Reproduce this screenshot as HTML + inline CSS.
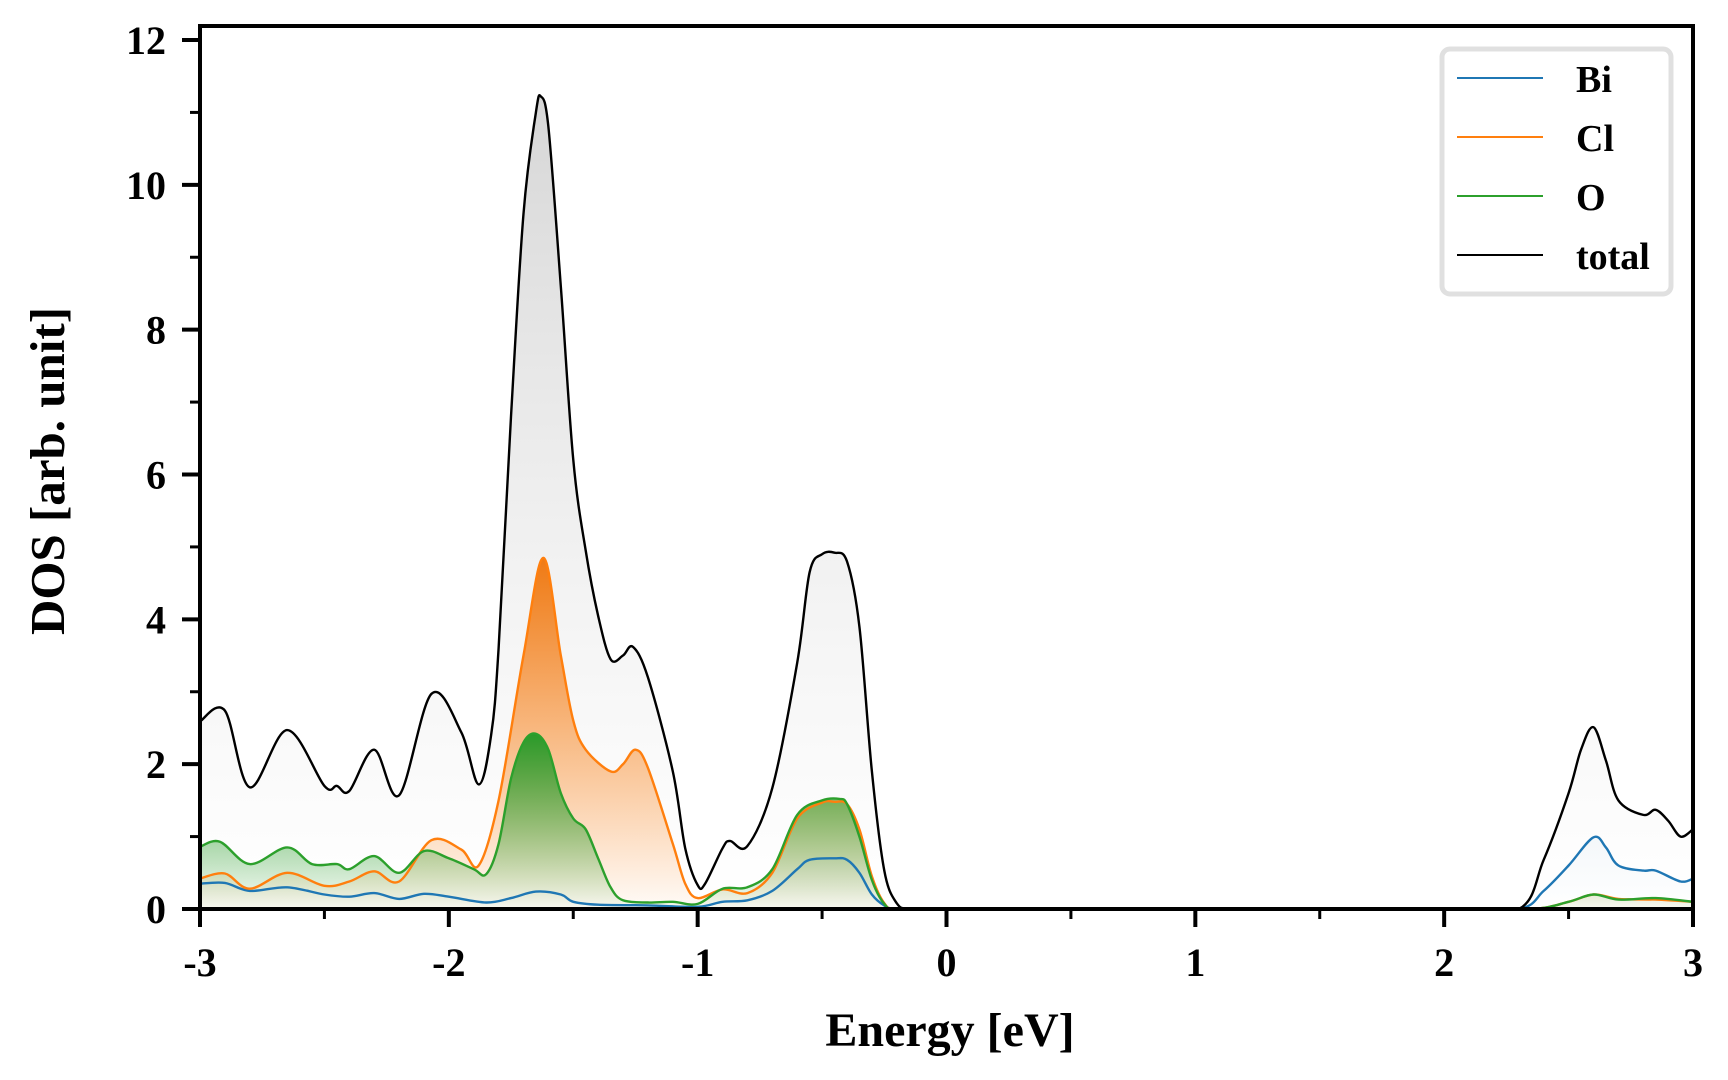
<!DOCTYPE html>
<html><head><meta charset="utf-8"><style>
html,body{margin:0;padding:0;background:#fff;}
svg{display:block;}
text{font-family:"Liberation Serif",serif;font-weight:bold;fill:#000;}
</style></head><body>
<svg id="chart" width="1728" height="1080" viewBox="0 0 1728 1080" xmlns="http://www.w3.org/2000/svg">
<defs>
<linearGradient id="gTotal" x1="0" y1="0" x2="0" y2="1"><stop offset="0" stop-color="#d6d6d6"/><stop offset="1" stop-color="#ffffff" stop-opacity="0.6"/></linearGradient>
<linearGradient id="gCl" x1="0" y1="0" x2="0" y2="1"><stop offset="0" stop-color="#ef7a14"/><stop offset="1" stop-color="#ff7f0e" stop-opacity="0.03"/></linearGradient>
<linearGradient id="gO" x1="0" y1="0" x2="0" y2="1"><stop offset="0" stop-color="#2a9a2a"/><stop offset="1" stop-color="#2ca02c" stop-opacity="0.03"/></linearGradient>
<linearGradient id="gBi" x1="0" y1="0" x2="0" y2="1"><stop offset="0" stop-color="#1f77b4" stop-opacity="0.04"/><stop offset="1" stop-color="#1f77b4" stop-opacity="0.0"/></linearGradient>
<clipPath id="plotClip"><rect x="200" y="26" width="1493" height="883"/></clipPath>
</defs>
<g id="fills" clip-path="url(#plotClip)"></g>
<g id="lines" clip-path="url(#plotClip)"></g>
<g id="axes"></g>
<g>
<rect x="1442" y="49" width="229" height="245" rx="8" fill="#fff" stroke="#e0e0e0" stroke-width="5"/>
<g><line x1="1457" x2="1543" y1="78" y2="78" stroke="#1f77b4" stroke-width="2"/><text x="1576" y="92" font-size="38">Bi</text></g>
<g><line x1="1457" x2="1543" y1="137" y2="137" stroke="#ff7f0e" stroke-width="2"/><text x="1576" y="151" font-size="38">Cl</text></g>
<g><line x1="1457" x2="1543" y1="196" y2="196" stroke="#2ca02c" stroke-width="2"/><text x="1576" y="210" font-size="38">O</text></g>
<g><line x1="1457" x2="1543" y1="255" y2="255" stroke="#000" stroke-width="2"/><text x="1576" y="269" font-size="38">total</text></g>
</g>
<text x="950" y="1046" font-size="48" text-anchor="middle">Energy [eV]</text>
<text transform="translate(64,471) rotate(-90)" font-size="49" text-anchor="middle">DOS [arb. unit]</text>
</svg>
<script>
const totalX=[-3,-2.9,-2.8,-2.65,-2.5,-2.45,-2.4,-2.3,-2.2,-2.07,-1.95,-1.88,-1.83,-1.8,-1.75,-1.7,-1.65,-1.63,-1.6,-1.55,-1.5,-1.45,-1.4,-1.35,-1.3,-1.26,-1.2,-1.1,-1.05,-1.0,-0.97,-0.9,-0.87,-0.8,-0.7,-0.6,-0.55,-0.5,-0.45,-0.4,-0.35,-0.3,-0.25,-0.2,-0.15,0,1,2,2.3,2.4,2.5,2.55,2.6,2.65,2.7,2.8,2.85,2.9,2.95,3];
const totalY=[2.59,2.74,1.68,2.47,1.7,1.7,1.63,2.2,1.57,2.97,2.44,1.72,2.4,3.6,6.8,9.6,11.0,11.22,10.8,8.6,6.2,4.95,4.05,3.45,3.5,3.62,3.2,1.9,0.84,0.33,0.35,0.84,0.94,0.87,1.67,3.4,4.65,4.9,4.92,4.8,3.9,1.9,0.53,0.08,0,0,0,0,0,0.68,1.6,2.2,2.51,2.05,1.5,1.3,1.37,1.22,1.0,1.1];
const biX=[-3,-2.9,-2.8,-2.65,-2.5,-2.4,-2.3,-2.2,-2.1,-2.0,-1.85,-1.75,-1.65,-1.55,-1.5,-1.4,-1.2,-1.0,-0.9,-0.8,-0.7,-0.6,-0.55,-0.45,-0.4,-0.35,-0.3,-0.25,-0.2,0,1,2,2.3,2.4,2.5,2.6,2.65,2.7,2.8,2.85,2.95,3];
const biY=[0.35,0.36,0.25,0.3,0.2,0.17,0.22,0.14,0.21,0.17,0.09,0.15,0.24,0.2,0.1,0.06,0.05,0.03,0.1,0.12,0.25,0.55,0.68,0.7,0.68,0.5,0.2,0.05,0,0,0,0,0,0.25,0.6,0.99,0.85,0.6,0.53,0.53,0.38,0.42];
const clX=[-3,-2.9,-2.8,-2.65,-2.5,-2.4,-2.3,-2.2,-2.07,-1.95,-1.88,-1.8,-1.7,-1.62,-1.55,-1.5,-1.45,-1.35,-1.3,-1.25,-1.2,-1.1,-1.05,-1.0,-0.9,-0.8,-0.7,-0.6,-0.5,-0.45,-0.4,-0.35,-0.3,-0.25,-0.2,0,1,2,2.35,2.5,2.6,2.7,2.85,3];
const clY=[0.42,0.49,0.28,0.5,0.32,0.38,0.52,0.38,0.95,0.82,0.6,1.5,3.5,4.85,3.5,2.6,2.2,1.9,2.0,2.2,1.95,0.9,0.35,0.15,0.27,0.22,0.5,1.25,1.47,1.48,1.45,1.1,0.45,0.08,0,0,0,0,0,0.1,0.2,0.14,0.13,0.1];
const oX=[-3,-2.92,-2.8,-2.65,-2.55,-2.45,-2.4,-2.3,-2.2,-2.1,-2.0,-1.9,-1.85,-1.8,-1.75,-1.7,-1.65,-1.6,-1.55,-1.5,-1.45,-1.4,-1.35,-1.3,-1.2,-1.1,-1.0,-0.9,-0.8,-0.7,-0.6,-0.5,-0.43,-0.4,-0.35,-0.3,-0.25,-0.2,0,1,2,2.35,2.5,2.6,2.7,2.85,3];
const oY=[0.86,0.93,0.62,0.85,0.62,0.62,0.55,0.73,0.5,0.8,0.7,0.55,0.48,0.9,1.8,2.3,2.42,2.2,1.6,1.25,1.1,0.7,0.3,0.12,0.09,0.1,0.07,0.28,0.3,0.55,1.3,1.5,1.52,1.45,1.0,0.4,0.07,0,0,0,0,0,0.1,0.2,0.13,0.15,0.1];
const xTicks=[-3,-2,-1,0,1,2,3];
const yTicks=[0,2,4,6,8,10,12];

const NS="http://www.w3.org/2000/svg";
const L=200,R=1693,T=26,B=909;
function sx(v){return L+(v+3)/6*(R-L);}
function syy(v){return B-v*(B-40)/12;}
function pathD(xs,ys){
  const p=xs.map((x,i)=>[sx(x),syy(ys[i])]);
  let d="M"+p[0][0].toFixed(1)+","+p[0][1].toFixed(1);
  for(let i=0;i<p.length-1;i++){
    const p0=p[Math.max(0,i-1)],p1=p[i],p2=p[i+1],p3=p[Math.min(p.length-1,i+2)];
    const c1x=p1[0]+(p2[0]-p0[0])/6,c1y=p1[1]+(p2[1]-p0[1])/6;
    const c2x=p2[0]-(p3[0]-p1[0])/6,c2y=p2[1]-(p3[1]-p1[1])/6;
    d+=" C"+c1x.toFixed(1)+","+Math.min(B,c1y).toFixed(1)+" "+c2x.toFixed(1)+","+Math.min(B,c2y).toFixed(1)+" "+p2[0].toFixed(1)+","+p2[1].toFixed(1);
  }
  return d;
}
const fills=document.getElementById('fills'),lines=document.getElementById('lines'),axes=document.getElementById('axes');
const series=[["total",totalX,totalY,"#000","url(#gTotal)"],["cl",clX,clY,"#ff7f0e","url(#gCl)"],["o",oX,oY,"#2ca02c","url(#gO)"],["bi",biX,biY,"#1f77b4","url(#gBi)"]];
series.forEach(s=>{
  const d=pathD(s[1],s[2]);
  const f=document.createElementNS(NS,'path');
  f.setAttribute('d',d+" L"+sx(s[1][s[1].length-1])+","+B+" L"+sx(s[1][0])+","+B+" Z");
  f.setAttribute('fill',s[4]);
  
  
  fills.appendChild(f);
});
[series[3],series[1],series[2],series[0]].forEach(s=>{
  const l=document.createElementNS(NS,'path');
  l.setAttribute('d',pathD(s[1],s[2]));
  l.setAttribute('fill','none');
  l.setAttribute('stroke',s[3]);
  l.setAttribute('stroke-width','2.4');
  
  
  lines.appendChild(l);
});
function add(tag,attrs,name){const e=document.createElementNS(NS,tag);for(const k in attrs)e.setAttribute(k,attrs[k]);
  
  
  axes.appendChild(e);return e;}
add('rect',{x:L,y:T,width:R-L,height:B-T,fill:'none',stroke:'#000','stroke-width':4},'plot-frame');
xTicks.forEach(v=>{add('line',{x1:sx(v),x2:sx(v),y1:B,y2:B+18,stroke:'#000','stroke-width':4},'x-tick');
  const t=add('text',{x:sx(v),y:B+67,'font-size':40,'text-anchor':'middle'},'x-tick-label');t.textContent=v;});
for(let i=0;i<6;i++){const v=xTicks[i]+0.5;add('line',{x1:sx(v),x2:sx(v),y1:B,y2:B+10,stroke:'#000','stroke-width':3},'x-minor-tick');}
yTicks.forEach(v=>{add('line',{x1:L-18,x2:L,y1:syy(v),y2:syy(v),stroke:'#000','stroke-width':4},'y-tick');
  const t=add('text',{x:L-34,y:syy(v)+14,'font-size':40,'text-anchor':'end'},'y-tick-label');t.textContent=v;});
for(let i=0;i<6;i++){const v=yTicks[i]+1;add('line',{x1:L-10,x2:L,y1:syy(v),y2:syy(v),stroke:'#000','stroke-width':3},'y-minor-tick');}
</script>
</body></html>
